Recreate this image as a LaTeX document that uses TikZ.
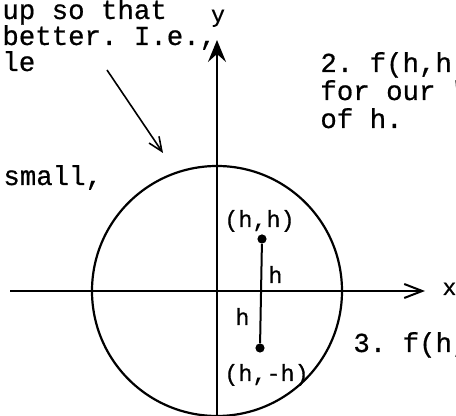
\documentclass[tikz,border=0pt]{standalone}
\usepackage{fontspec}
\setmonofont[FakeBold=0.6]{Liberation Mono}
\usetikzlibrary{arrows.meta}
\tikzset{
  fig/note/.style={font=\fontsize{13.7}{13.5}\selectfont\ttfamily,
                   anchor=base west, inner sep=0pt},
  fig/lbl/.style ={font=\fontsize{11.7}{12}\selectfont\ttfamily,
                   anchor=base west, inner sep=0pt},
  fig/axis/.style={line width=1.1pt},
  fig/dot/.style ={circle, fill=black, inner sep=0pt, minimum size=4.6pt},
  fig/yarr/.style={-{Stealth[length=11pt, width=9pt, inset=4pt]}},
  fig/xarr/.style={-{Straight Barb[length=9pt, width=7pt, line width=1pt]}},
  fig/parr/.style={-{Straight Barb[length=7pt, width=6pt, line width=0.8pt]},
                   line width=0.8pt}
}

\begin{document}
\begin{tikzpicture}[x=0.5pt, y=-0.5pt]
    \useasboundingbox (0,0) rectangle (456,416);

    % --- text, top left ---
    \node[fig/note] (t1) at (2,19)  {up so that};
    \node[fig/note] (t2) at (2,45)  {better. I.e.,};
    \node[fig/note] (t3) at (2,71)  {le};
    \node[fig/note] (t4) at (3,185) {small,};

    % --- text, right ---
    \node[fig/note] (r1) at (320,72)  {2. f(h,h)};
    \node[fig/note] (r2) at (320,100) {for our "};
    \node[fig/note] (r3) at (320,128) {of h.};
    \node[fig/note] (r4) at (353,352) {3. f(h,};

    % --- axes ---
    \coordinate (o)  at (217,291);
    \coordinate (xl) at (10,291);
    \coordinate (xr) at (425,291);
    \coordinate (yb) at (217,418);
    \coordinate (yt) at (217,40);
    \draw[fig/axis, fig/xarr] (xl) -- (xr);
    \draw[fig/axis, fig/yarr] (yb) -- (yt);
    \node[fig/lbl, anchor=base] (ylab) at (218,22) {y};
    \node[fig/lbl] (xlab) at (442,295) {x};

    % --- circle ---
    \draw[line width=1.1pt] (o) circle[radius=125];

    % --- points and segment ---
    \node[fig/dot] (p) at (262,239) {};
    \node[fig/dot] (q) at (260,348) {};
    \draw[line width=1pt] (p) -- (q);
    \node[fig/lbl] (plab) at (224,227) {(h,h)};
    \node[fig/lbl] (qlab) at (224,381) {(h,-h)};
    \node[fig/lbl] (h1) at (268,283) {h};
    \node[fig/lbl] (h2) at (235,325) {h};

    % --- pointer arrow ---
    \coordinate (a0) at (107,70);
    \coordinate (a1) at (163,153);
    \draw[fig/parr] (a0) -- (a1);
\end{tikzpicture}
\end{document}
